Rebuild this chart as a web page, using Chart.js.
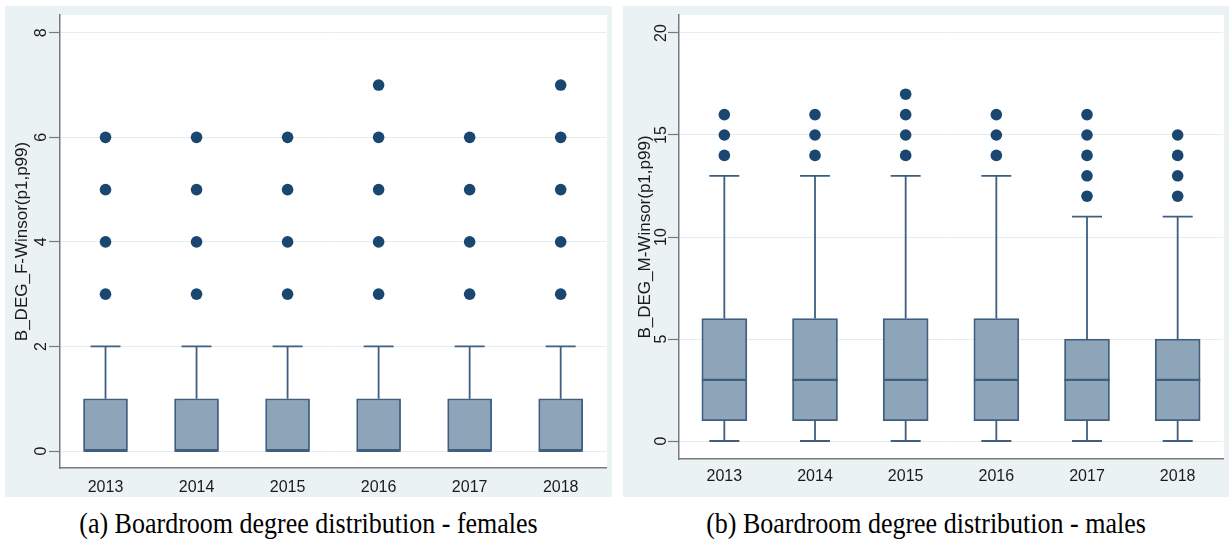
<!DOCTYPE html>
<html>
<head>
<meta charset="utf-8">
<script src="https://cdn.jsdelivr.net/npm/chart.js@4.4.1/dist/chart.umd.min.js"></script>
<style>
  html, body { margin: 0; padding: 0; background: #fff; }
  #page { position: relative; width: 1231px; height: 544px; overflow: hidden; }
  .panel { position: absolute; background: #eaf2f3; }
  .panel canvas { display: block; }
  .caption {
    position: absolute; top: 508px; line-height: 32px;
    font-family: "Liberation Serif", "Times New Roman", serif; font-size: 26px;
    color: #000; text-align: center; white-space: nowrap;
    transform: scaleY(1.1);
  }
</style>
</head>
<body>
<div id="page">
  <div class="panel" style="left:5px;top:6px;width:607px;height:491px"><canvas id="chartF" width="607" height="491"></canvas></div>
  <div class="panel" style="left:623px;top:6px;width:606px;height:491px"><canvas id="chartM" width="606" height="491"></canvas></div>
  <div class="caption" style="left:5px;width:607px">(a) Boardroom degree distribution - females</div>
  <div class="caption" style="left:623px;width:606px">(b) Boardroom degree distribution - males</div>
</div>
<script>
// ---- data ----
const years = ['2013', '2014', '2015', '2016', '2017', '2018'];

// Female boardroom degree (winsorized p1/p99)
const femLowerWhisker = [0, 0, 0, 0, 0, 0];
const femQ1 = [0, 0, 0, 0, 0, 0];
const femMedian = [0, 0, 0, 0, 0, 0];
const femQ3 = [1, 1, 1, 1, 1, 1];
const femUpperWhisker = [2, 2, 2, 2, 2, 2];
const femOutliers = [[3, 4, 5, 6], [3, 4, 5, 6], [3, 4, 5, 6], [3, 4, 5, 6, 7], [3, 4, 5, 6], [3, 4, 5, 6, 7]];
const femTicks = [0, 2, 4, 6, 8];

// Male boardroom degree (winsorized p1/p99)
const maleLowerWhisker = [0, 0, 0, 0, 0, 0];
const maleQ1 = [1, 1, 1, 1, 1, 1];
const maleMedian = [3, 3, 3, 3, 3, 3];
const maleQ3 = [6, 6, 6, 6, 5, 5];
const maleUpperWhisker = [13, 13, 13, 13, 11, 11];
const maleOutliers = [[14, 15, 16], [14, 15, 16], [14, 15, 16, 17], [14, 15, 16], [12, 13, 14, 15, 16], [12, 13, 14, 15]];
const maleTicks = [0, 5, 10, 15, 20];

// ---- styling ----
const BOX_FILL = '#8ea4b9';
const BOX_LINE = '#3e5f80';
const DOT = '#1a476f';
const AXIS = '#7a7a7a';
const GRID = '#e5edef';
const TEXT = '#1a1a1a';
const SANS = '"Liberation Sans", Arial, sans-serif';

// Whiskers, caps, medians, white plot region and rotated y tick labels
const boxPlotExtras = {
  id: 'boxPlotExtras',
  beforeDraw(chart) {
    const { ctx, chartArea: a } = chart;
    ctx.save();
    ctx.fillStyle = '#fff';
    ctx.fillRect(a.left, a.top, a.right - a.left + 1, a.bottom - a.top);
    ctx.restore();
  },
  afterDatasetsDraw(chart, args, opts) {
    const { ctx, scales: { x, y } } = chart;
    const st = opts.stats;
    const half = opts.boxWidth / 2, capHalf = opts.capWidth / 2;
    ctx.save();
    ctx.strokeStyle = BOX_LINE;
    ctx.lineCap = 'butt';
    st.q1.forEach((_, i) => {
      const cx = x.getPixelForValue(i);
      const pLo = y.getPixelForValue(st.lo[i]);
      const pQ1 = y.getPixelForValue(st.q1[i]);
      const pQ3 = y.getPixelForValue(st.q3[i]);
      const pHi = y.getPixelForValue(st.hi[i]);
      const pMed = y.getPixelForValue(st.med[i]);
      ctx.lineWidth = 1.8;
      ctx.beginPath();
      // upper whisker + cap
      ctx.moveTo(cx, pQ3); ctx.lineTo(cx, pHi);
      ctx.moveTo(cx - capHalf, pHi); ctx.lineTo(cx + capHalf, pHi);
      // lower whisker + cap
      if (st.lo[i] < st.q1[i]) {
        ctx.moveTo(cx, pQ1); ctx.lineTo(cx, pLo);
        ctx.moveTo(cx - capHalf, pLo); ctx.lineTo(cx + capHalf, pLo);
      }
      ctx.stroke();
      // median
      ctx.lineWidth = 2.2;
      ctx.beginPath();
      ctx.moveTo(cx - half, pMed); ctx.lineTo(cx + half, pMed);
      ctx.stroke();
    });
    ctx.restore();
  },
  afterDraw(chart, args, opts) {
    const { ctx, chartArea: a, scales: { y } } = chart;
    ctx.save();
    ctx.fillStyle = TEXT;
    ctx.font = '16px ' + SANS;
    ctx.textAlign = 'center';
    ctx.textBaseline = 'middle';
    y.ticks.forEach(t => {
      ctx.save();
      ctx.translate(a.left - opts.labelGap, y.getPixelForValue(t.value));
      ctx.rotate(-Math.PI / 2);
      ctx.fillText(String(t.value), 0, 0);
      ctx.restore();
    });
    ctx.restore();
  }
};

function makeBoxChart(canvasId, cfg) {
  const outlierPoints = cfg.outliers.flatMap((vals, i) => vals.map(v => ({ x: years[i], y: v })));
  return new Chart(document.getElementById(canvasId), {
    type: 'bar',
    data: {
      labels: years,
      datasets: [
        {
          type: 'line',
          data: outlierPoints,
          showLine: false,
          pointRadius: 5.8,
          pointBackgroundColor: DOT,
          pointBorderWidth: 0,
          order: 0
        },
        {
          data: cfg.q1.map((q, i) => [q, cfg.q3[i]]),
          backgroundColor: BOX_FILL,
          borderColor: BOX_LINE,
          borderWidth: 1.8,
          borderSkipped: false,
          barThickness: cfg.boxWidth,
          order: 1
        }
      ]
    },
    options: {
      responsive: false,
      devicePixelRatio: 1,
      animation: false,
      events: [],
      layout: { padding: { top: 9, right: cfg.padRight, left: 0, bottom: 0 } },
      plugins: {
        legend: { display: false },
        tooltip: { enabled: false },
        boxPlotExtras: {
          stats: { lo: cfg.lo, q1: cfg.q1, med: cfg.med, q3: cfg.q3, hi: cfg.hi },
          boxWidth: cfg.boxWidth,
          capWidth: 30,
          labelGap: cfg.labelGap
        }
      },
      scales: {
        x: {
          offset: true,
          grid: { display: false, drawTicks: false },
          border: { display: true, color: AXIS, width: 1.5 },
          ticks: { color: TEXT, font: { family: SANS, size: 16 }, padding: cfg.xPad, maxRotation: 0 },
          afterFit: s => { s.height = cfg.xAxisHeight; }
        },
        y: {
          min: cfg.yMin,
          max: cfg.yMax,
          afterBuildTicks: s => { s.ticks = cfg.ticks.map(v => ({ value: v })); },
          ticks: { display: false },
          grid: { color: GRID, lineWidth: 1, drawTicks: true, tickLength: 11, tickColor: AXIS, tickWidth: 1.2 },
          border: { display: true, color: AXIS, width: 1.5 },
          title: {
            display: true,
            text: cfg.title,
            color: TEXT,
            font: { family: SANS, size: 17 },
            padding: { top: cfg.titlePad, bottom: 0 }
          },
          afterFit: s => { s.width = cfg.yAxisWidth; }
        }
      }
    },
    plugins: [boxPlotExtras]
  });
}

makeBoxChart('chartF', {
  title: 'B_DEG_F-Winsor(p1,p99)',
  lo: femLowerWhisker, q1: femQ1, med: femMedian, q3: femQ3, hi: femUpperWhisker,
  outliers: femOutliers, ticks: femTicks,
  yMin: -0.325, yMax: 8.34,
  boxWidth: 44, padRight: 1, yAxisWidth: 55, xAxisHeight: 29,
  xPad: 10, titlePad: 7, labelGap: 18
});

makeBoxChart('chartM', {
  title: 'B_DEG_M-Winsor(p1,p99)',
  lo: maleLowerWhisker, q1: maleQ1, med: maleMedian, q3: maleQ3, hi: maleUpperWhisker,
  outliers: maleOutliers, ticks: maleTicks,
  yMin: -0.882, yMax: 20.882,
  boxWidth: 45, padRight: 6, yAxisWidth: 56, xAxisHeight: 38,
  xPad: 8, titlePad: 12, labelGap: 17
});
</script>
</body>
</html>
